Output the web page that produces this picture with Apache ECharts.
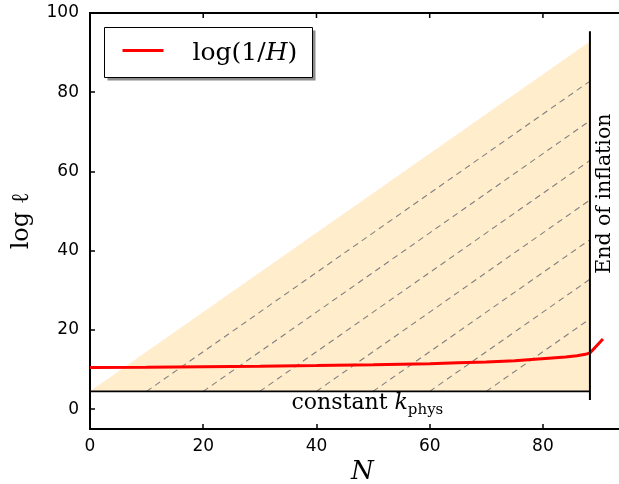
<!DOCTYPE html>
<html>
<head>
<meta charset="utf-8">
<script src="https://cdn.jsdelivr.net/npm/echarts@6/dist/echarts.min.js"></script>
<style>html,body{margin:0;padding:0;background:#fff;overflow:hidden}#c{width:619px;height:484px}</style>
</head>
<body>
<div id="c"></div>
<script>
// ---- data ----
const xTicks = [0, 20, 40, 60, 80];
const topTicks = [20, 40, 60, 80];
const yTicks = [0, 20, 40, 60, 80, 100];
const yMax = 100;
// shaded region (triangle) corners
const shadeBaseY = 4.5;
const shadeEdge = [[0, 4.5], [88.3, 92.8]];
// end of inflation
const endN = 88.3;
const endLineY = [2.3, 95.4];
// dashed constant-k lines: start N (on base line) and end value at N=88.3
const dashStartN = [10, 20, 30, 40, 50, 60, 70];
const dashEndY = [82.8, 72.8, 62.8, 52.8, 42.8, 32.8, 22.8];
// log(1/H) curve
const hN = [0, 10, 20, 30, 40, 50, 60, 65, 70, 75, 78, 81, 84, 86, 87.5, 88.3, 90.6];
const hV = [10.5, 10.6, 10.72, 10.85, 11.0, 11.2, 11.5, 11.7, 11.9, 12.25, 12.55, 12.85, 13.15, 13.5, 13.85, 14.2, 17.7];
// annotation anchors
const constLabelAt = [49, 1.6];
const endLabelAt = [90.9, 54.4];

const serif = 'DejaVu Serif';
const chart = echarts.init(document.getElementById('c'), null, {renderer: 'canvas'});

const dashSeries = dashStartN.map((s, i) => ({
  type: 'line', name: 'k' + i,
  data: [[s, shadeBaseY], [endN, dashEndY[i]]],
  symbol: 'none', silent: true, z: 3,
  lineStyle: {color: '#808080', width: 1.1, type: [6, 4.5]}
}));

const option = {
  animation: false,
  backgroundColor: '#fff',
  grid: {left: 90, top: 13, right: -40, bottom: 55, containLabel: false, outerBoundsMode: 'none',
    show: true, backgroundColor: 'transparent', borderColor: '#000', borderWidth: 2},
  graphic: [
    {
      type: 'group', left: 104, top: 27, z: 100,
      children: [
        {type: 'rect', shape: {x: 3, y: 3, width: 208, height: 50}, style: {fill: '#8c8c8c'}},
        {type: 'rect', shape: {x: 0, y: 0, width: 208, height: 50}, style: {fill: '#fff', stroke: '#000', lineWidth: 1}},
        {type: 'line', shape: {x1: 18, y1: 23, x2: 59, y2: 23}, style: {stroke: 'red', lineWidth: 3}},
        {type: 'text', x: 88, y: 26, style: {
          text: '{a|log(1/}{i|H}{a|)}', verticalAlign: 'middle', align: 'left', fill: '#000',
          rich: {
            a: {fontFamily: serif, fontSize: 25, fill: '#000', lineHeight: 28},
            i: {fontFamily: serif, fontSize: 25, fontStyle: 'italic', fill: '#000', lineHeight: 28}
          }
        }}
      ]
    },
    {type: 'text', left: 351, top: 459, style: {text: 'N', fill: '#000',
      fontFamily: serif, fontSize: 26, fontStyle: 'italic'}},
    {type: 'text', x: 22, y: 221, rotation: Math.PI / 2, style: {text: 'log ℓ', fill: '#000',
      fontFamily: serif, fontSize: 24, align: 'center', verticalAlign: 'middle'}}
  ],
  xAxis: [{
    type: 'value', min: 0, max: 100.5, interval: 20, position: 'bottom',
    axisLine: {show: true, onZero: false, lineStyle: {color: '#000', width: 2}},
    axisTick: {show: true, inside: true, length: 5, lineStyle: {color: '#000', width: 1.5}},
    splitLine: {show: false},
    axisLabel: {color: '#000', fontFamily: 'DejaVu Sans', fontSize: 17, margin: 9,
      showMaxLabel: false, formatter: v => xTicks.includes(v) ? String(v) : ''}
  }],
  yAxis: [{
    type: 'value', min: -5, max: yMax, minInterval: 20, maxInterval: 20,
    axisLine: {show: true, onZero: false, lineStyle: {color: '#000', width: 2}},
    axisTick: {show: true, inside: true, length: 5, lineStyle: {color: '#000', width: 1.5}},
    splitLine: {show: false},
    axisLabel: {color: '#000', fontFamily: 'DejaVu Sans', fontSize: 17, margin: 11,
      showMinLabel: false, formatter: v => yTicks.includes(v) ? String(v) : ''}
  }],
  series: [
    {
      type: 'line', name: 'shade', data: shadeEdge, symbol: 'none', silent: true, z: 1,
      lineStyle: {width: 0, opacity: 0},
      areaStyle: {color: '#ffedcc', opacity: 1, origin: shadeBaseY}
    },
    ...dashSeries,
    {
      type: 'line', name: 'base', data: [[0, shadeBaseY], [endN, shadeBaseY]],
      symbol: 'none', silent: true, z: 4,
      lineStyle: {color: '#000', width: 1.8}
    },
    {
      type: 'line', name: 'log(1/H)', data: hN.map((n, i) => [n, hV[i]]),
      symbol: 'none', z: 5, color: 'red',
      lineStyle: {color: 'red', width: 3}
    },
    {
      type: 'line', name: 'end', data: [[endN, endLineY[0]], [endN, endLineY[1]]],
      symbol: 'none', silent: true, z: 6,
      lineStyle: {color: '#000', width: 2}
    },
    {
      type: 'custom', name: 'topTicks', data: topTicks, silent: true, z: 6,
      renderItem: (params, api) => {
        const p = api.coord([api.value(0), yMax]);
        return {type: 'line', shape: {x1: p[0], y1: p[1], x2: p[0], y2: p[1] + 5},
          style: {stroke: '#000', lineWidth: 1.5}};
      }
    },
    {
      type: 'custom', name: 'labels', data: [constLabelAt, endLabelAt], silent: true, z: 7,
      clip: false,
      renderItem: (params, api) => {
        const p = api.coord([api.value(0), api.value(1)]);
        if (params.dataIndex === 0) {
          return {type: 'text', x: p[0], y: p[1], style: {
            text: '{a|constant }{i|k}{s|phys}', align: 'center', verticalAlign: 'middle', fill: '#000',
            rich: {
              a: {fontFamily: serif, fontSize: 22, fill: '#000', lineHeight: 28},
              i: {fontFamily: serif, fontSize: 22, fontStyle: 'italic', fill: '#000', lineHeight: 28},
              s: {fontFamily: serif, fontSize: 15, fill: '#000', lineHeight: 14, padding: [14, 0, 0, 0]}
            }
          }};
        }
        return {type: 'text', x: p[0], y: p[1], rotation: Math.PI / 2, style: {
          text: 'End of inflation', align: 'center', verticalAlign: 'middle', fill: '#000',
          fontFamily: serif, fontSize: 20.5
        }};
      }
    }
  ]
};
chart.setOption(option);
</script>
</body>
</html>
